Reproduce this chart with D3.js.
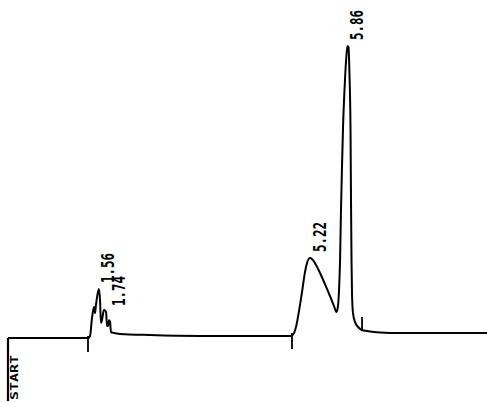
<!DOCTYPE html>
<html>
<head>
<meta charset="utf-8">
<script src="https://cdn.jsdelivr.net/npm/d3@7"></script>
<style>
  html, body { margin: 0; padding: 0; background: #fff; }
  svg { display: block; }
  .lbl { font-family: "DejaVu Sans Mono", monospace; fill: #000; }
</style>
</head>
<body>
<svg id="chart" width="487" height="403"></svg>
<script>
// Detector trace: retention time (min) and response (relative units)
const traceTime = [
  0, 1.384, 1.419, 1.453, 1.488, 1.505, 1.522, 1.557, 1.574, 1.592, 1.609,
  1.626, 1.661, 1.696, 1.713, 1.730, 1.747, 1.765, 1.782, 1.834, 1.938,
  2.457, 3.322, 4.896, 4.948, 4.983, 5.017, 5.052, 5.087, 5.138, 5.173,
  5.225, 5.277, 5.329, 5.398, 5.484, 5.571, 5.640, 5.683, 5.709, 5.727,
  5.744, 5.761, 5.779, 5.796, 5.830, 5.856, 5.874, 5.891, 5.908, 5.926,
  5.934, 5.943, 5.952, 5.969, 6.003, 6.055, 6.125, 6.211, 6.436, 6.782, 8.287
];
const traceSignal = [
  0, 0, 0.7, 6.8, 10.6, 8.5, 11.3, 15.7, 16.7, 13.0, 5.1,
  6.1, 9.6, 8.9, 4.1, 4.1, 6.1, 5.5, 2.0, 1.7, 1.4,
  1.0, 0.7, 0.7, 1.7, 3.8, 7.2, 11.3, 15.7, 22.5, 25.6,
  27.3, 26.6, 24.9, 22.2, 18.4, 14.3, 10.9, 8.9, 10.9, 16.4,
  25.9, 43.7, 59.0, 71.7, 88.1, 96.6, 99.7, 99.3, 89.8, 71.0,
  47.1, 26.6, 14.7, 8.5, 5.5, 3.8, 2.7, 2.4, 1.9, 1.7, 1.7
];

// Integration event marks: time and kind (peak start below trace, end above)
const eventTime = [1.384, 4.913, 6.125];
const eventKind = ["start", "start", "end"];

// Retention-time annotations
const peakLabels = ["1.56", "1.74", "5.22", "5.86"];
const peakTimes = [1.56, 1.74, 5.22, 5.86];

const startLabel = "START";

const svg = d3.select("#chart");
const x = d3.scaleLinear().domain([0, 8.287]).range([8, 487]);
const y = d3.scaleLinear().domain([0, 100]).range([338, 45]);

const pts = traceTime.map((t, i) => [t, traceSignal[i]]);
const line = d3.line().x(d => x(d[0])).y(d => y(d[1])).curve(d3.curveMonotoneX);

svg.append("path")
  .datum(pts)
  .attr("d", line)
  .attr("fill", "none")
  .attr("stroke", "#000")
  .attr("stroke-width", 2)
  .attr("stroke-linejoin", "round");

// response at a given time, linear between samples
const interp = t => {
  const i = d3.bisectRight(traceTime, t);
  if (i <= 0) return traceSignal[0];
  if (i >= traceTime.length) return traceSignal[traceSignal.length - 1];
  const t0 = traceTime[i - 1], t1 = traceTime[i];
  return traceSignal[i - 1] + (traceSignal[i] - traceSignal[i - 1]) * (t - t0) / (t1 - t0);
};

// local apex height around a retention time
const apex = t => d3.max(traceTime.map((tt, i) => Math.abs(tt - t) <= 0.05 ? traceSignal[i] : -Infinity));

// event ticks
svg.selectAll("line.evt")
  .data(eventTime)
  .join("line")
  .attr("class", "evt")
  .attr("x1", d => x(d)).attr("x2", d => x(d))
  .attr("y1", (d, i) => y(interp(d)) + (eventKind[i] === "start" ? -2 : 1))
  .attr("y2", (d, i) => y(interp(d)) + (eventKind[i] === "start" ? 14 : -13))
  .attr("stroke", "#000")
  .attr("stroke-width", 1.8);

// START marker: vertical bar down from the baseline origin
svg.append("line")
  .attr("x1", x(0)).attr("x2", x(0))
  .attr("y1", y(0)).attr("y2", 401)
  .attr("stroke", "#000").attr("stroke-width", 2.2);

svg.append("text")
  .attr("class", "lbl")
  .attr("transform", `translate(${x(0) + 10},400) rotate(-90)`)
  .attr("font-size", 11)
  .attr("font-weight", "bold")
  .attr("textLength", 45)
  .attr("lengthAdjust", "spacingAndGlyphs")
  .text(startLabel);

// retention time labels, written upward above each peak
svg.selectAll("text.rt")
  .data(peakLabels)
  .join("text")
  .attr("class", "lbl rt")
  .attr("transform", (d, i) => {
    const t = peakTimes[i];
    const ty = y(apex(t)) - 6;
    return `translate(${x(t) + 16},${ty}) rotate(-90)`;
  })
  .attr("font-size", 17)
  .attr("font-weight", "bold")
  .attr("textLength", 30)
  .attr("lengthAdjust", "spacingAndGlyphs")
  .text(d => d);
</script>
</body>
</html>
